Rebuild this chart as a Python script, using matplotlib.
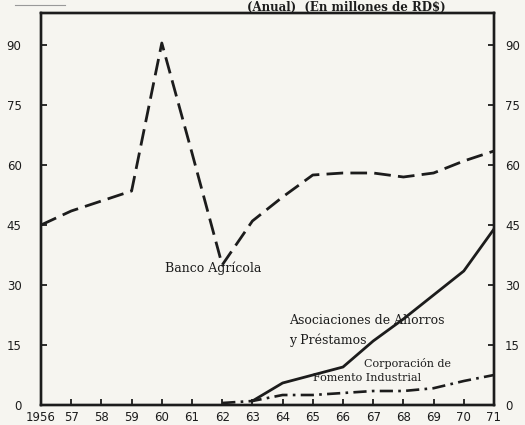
import matplotlib
matplotlib.use("Agg")
import matplotlib.pyplot as plt

years_banco = [1956, 1957, 1958, 1959, 1960, 1961, 1962, 1963, 1964, 1965,
               1966, 1967, 1968, 1969, 1970, 1971]
banco = [45, 48.5, 51, 53.5, 90.5, 63, 35, 46, 52, 57.5, 58, 58, 57, 58, 61, 63.5]

years_asoc = [1963, 1964, 1965, 1966, 1967, 1968, 1969, 1970, 1971]
asoc = [1, 5.5, 7.5, 9.5, 16, 21.5, 27.5, 33.5, 44]

years_corp = [1962, 1963, 1964, 1965, 1966, 1967, 1968, 1969, 1970, 1971]
corp = [0.5, 1, 2.5, 2.5, 3, 3.5, 3.5, 4.2, 6, 7.5]

xticks = list(range(1956, 1972))
xlabels = ["1956"] + [str(y)[2:] for y in range(1957, 1972)]
yticks = [0, 15, 30, 45, 60, 75, 90]

ink = "#1c1c1c"
paper = "#f6f5f0"

fig = plt.figure(figsize=(5.25, 4.25), dpi=100, facecolor=paper)
ax = fig.add_axes([41/525, 1-405/425, (494-41)/525, (405-13)/425])
ax.set_facecolor(paper)

ax.plot(years_banco, banco, color=ink, lw=2.0, dashes=(6, 2.6))
ax.plot(years_asoc, asoc, color=ink, lw=2.0)
ax.plot(years_corp, corp, color=ink, lw=1.9, dashes=(5, 2, 1, 2))

ax.set_xlim(1956, 1971)
ax.set_ylim(0, 98)

ax.set_xticks(xticks)
ax.set_xticklabels(xlabels, fontsize=8.5, color=ink)
ax.set_yticks(yticks)
ax.set_yticklabels([str(v) for v in yticks], fontsize=8.5, color=ink)
ax.tick_params(axis="both", direction="in", length=4, width=1.3, colors=ink,
               labelcolor=ink)
ax.tick_params(axis="y", pad=14)
ax.tick_params(axis="x", pad=4)

ax2 = ax.twinx()
ax2.set_ylim(ax.get_ylim())
ax2.set_yticks(yticks)
ax2.set_yticklabels([str(v) for v in yticks], fontsize=8.5, color=ink)
ax2.tick_params(axis="y", direction="in", length=4, width=1.3, colors=ink,
                labelcolor=ink, pad=8)

for a in (ax, ax2):
    for s in a.spines.values():
        s.set_linewidth(1.7)
        s.set_color(ink)

fnt = dict(family="DejaVu Serif", fontsize=9, color=ink)
ax.text(1961.7, 34.2, "Banco Agrícola", ha="center", va="center", **fnt)
ax.text(1964.2, 21.2, "Asociaciones de Ahorros", ha="left", va="center", **fnt)
ax.text(1964.2, 16.2, "y Préstamos", ha="left", va="center", **fnt)
fnt2 = dict(family="DejaVu Serif", fontsize=8, color=ink)
ax.text(1966.7, 10.4, "Corporación de", ha="left", va="center", **fnt2)
ax.text(1965.0, 6.7, "Fomento Industrial", ha="left", va="center", **fnt2)

fig.text(0.66, 0.998, "(Anual)  (En millones de RD$)", ha="center", va="top",
         family="DejaVu Serif", fontsize=8.5, fontweight="bold", color=ink)
fig.add_artist(plt.Line2D([15/525, 65/525], [1-5/425, 1-5/425], color="#999999", lw=0.8))

fig.savefig("out.png", dpi=100, facecolor=paper)
